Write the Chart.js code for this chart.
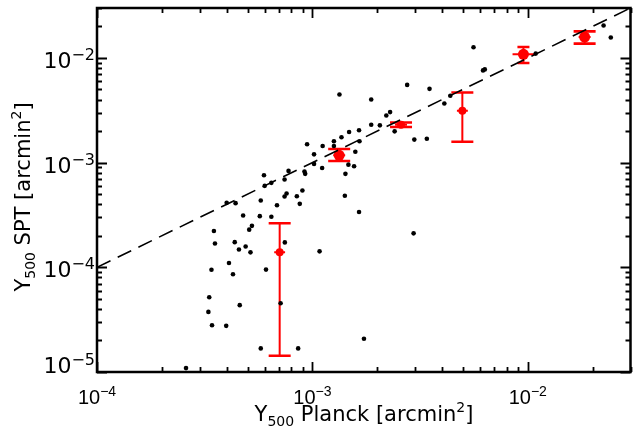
<!DOCTYPE html>
<html>
<head>
<meta charset="utf-8">
<script src="https://cdn.jsdelivr.net/npm/chart.js@4.4.1/dist/chart.umd.min.js"></script>
<style>
  html, body { margin: 0; padding: 0; background: #fff; }
</style>
</head>
<body>
<canvas id="chart" width="636" height="439"></canvas>
<script>
// Y500 Planck (x) vs Y500 SPT (y), arcmin^2, one black dot per cluster
const planckY500 = [
  2.59e-4, 3.29e-4, 3.32e-4, 3.40e-4, 3.42e-4, 3.49e-4, 3.53e-4, 3.98e-4, 4.00e-4, 4.10e-4,
  4.28e-4, 4.36e-4, 4.40e-4, 4.56e-4, 4.60e-4, 4.77e-4, 4.90e-4, 5.09e-4, 5.16e-4, 5.24e-4,
  5.70e-4, 5.76e-4, 5.76e-4, 5.96e-4, 6.01e-4, 6.09e-4, 6.45e-4, 6.45e-4, 6.85e-4, 7.12e-4,
  7.43e-4, 7.43e-4, 7.45e-4, 7.59e-4, 7.75e-4, 8.47e-4, 8.59e-4, 8.74e-4, 8.99e-4, 9.19e-4,
  9.26e-4, 9.45e-4, 1.018e-3, 1.018e-3, 1.08e-3, 1.11e-3, 1.116e-3, 1.259e-3, 1.259e-3, 1.336e-3,
  1.365e-3, 1.415e-3, 1.424e-3, 1.47e-3, 1.481e-3, 1.562e-3, 1.583e-3, 1.647e-3, 1.655e-3, 1.647e-3,
  1.736e-3, 1.876e-3, 1.876e-3, 2.058e-3, 2.205e-3, 2.296e-3, 2.41e-3, 2.755e-3, 2.951e-3, 2.974e-3,
  3.40e-3, 3.499e-3, 4.10e-3, 4.37e-3, 5.60e-3, 6.20e-3, 6.32e-3, 1.089e-2, 2.25e-2, 2.43e-2,
];
const sptY500 = [
  1.09e-5, 3.75e-5, 5.18e-5, 9.47e-5, 2.80e-5, 2.22e-4, 1.69e-4, 2.76e-5, 4.13e-4, 1.10e-4,
  8.58e-5, 1.74e-4, 4.10e-4, 1.48e-4, 4.35e-5, 3.13e-4, 1.58e-4, 2.29e-4, 1.39e-4, 2.49e-4,
  3.08e-4, 4.35e-4, 1.68e-5, 7.57e-4, 6.00e-4, 9.51e-5, 6.41e-4, 3.04e-4, 3.92e-4, 4.54e-5,
  6.89e-4, 4.75e-4, 1.73e-4, 5.07e-4, 8.34e-4, 4.78e-4, 1.68e-5, 4.04e-4, 5.41e-4, 8.21e-4,
  7.81e-4, 1.50e-3, 1.20e-3, 9.72e-4, 1.42e-4, 8.90e-4, 1.44e-3, 1.60e-3, 1.44e-3, 4.47e-3,
  1.75e-3, 4.82e-4, 7.81e-4, 9.57e-4, 1.96e-3, 9.22e-4, 1.27e-3, 2.04e-3, 1.60e-3, 3.38e-4,
  2.08e-5, 4.01e-3, 2.30e-3, 2.27e-3, 2.82e-3, 3.04e-3, 1.99e-3, 5.53e-3, 2.11e-4, 1.66e-3,
  1.69e-3, 5.07e-3, 3.67e-3, 4.35e-3, 1.264e-2, 7.60e-3, 7.77e-3, 1.10e-2, 2.04e-2, 1.57e-2,
];

// red stacked bins with their error bars
const stackX    = [7.05e-4, 1.332e-3, 2.58e-3, 4.97e-3, 9.55e-3, 1.837e-2];
const stackXLo  = [6.65e-4, 1.25e-3, 2.42e-3, 4.69e-3, 8.50e-3, 1.723e-2];
const stackXHi  = [7.47e-4, 1.42e-3, 2.75e-3, 5.27e-3, 1.073e-2, 1.958e-2];
const stackY    = [1.39e-4, 1.174e-3, 2.30e-3, 3.13e-3, 1.084e-2, 1.585e-2];
const stackYLo  = [1.43e-5, 1.038e-3, 2.19e-3, 1.585e-3, 8.96e-3, 1.369e-2];
const stackYHi  = [2.64e-4, 1.351e-3, 2.42e-3, 4.67e-3, 1.273e-2, 1.796e-2];

// one-to-one line and axis ranges
const oneToOne = [1e-4, 3e-2];
const xRange = [1e-4, 3e-2];
const yRange = [1e-5, 3e-2];

// labelled decades
const xTickValues = [1e-4, 1e-3, 1e-2];
const xTickExp    = ["\u22124", "\u22123", "\u22122"];
const yTickValues = [1e-5, 1e-4, 1e-3, 1e-2];
const yTickExp    = ["\u22125", "\u22124", "\u22123", "\u22122"];
const minorSteps  = [1, 2, 3, 4, 5, 6, 7, 8, 9];

const TICK_FONT = "'Liberation Sans', Arial, sans-serif";
const TITLE_FONT = "'DejaVu Sans', sans-serif";
const RED = "#ff0000";

function decadeTicks(lo, hi) {
  const out = [];
  for (let e = Math.floor(Math.log10(lo)); e <= Math.ceil(Math.log10(hi)); e++) {
    minorSteps.forEach((m) => {
      const v = m * Math.pow(10, e);
      if (v >= lo * 0.999 && v <= hi * 1.001) out.push({ value: v, major: m === 1 });
    });
  }
  return out;
}

// draws a run of text pieces (base text, sub/superscripts) on one baseline
function richText(ctx, parts, x, y, align) {
  let total = 0;
  parts.forEach((p) => { ctx.font = p.font; p.w = ctx.measureText(p.t).width; total += p.w; });
  let cx = align === "center" ? x - total / 2 : align === "right" ? x - total : x;
  parts.forEach((p) => { ctx.font = p.font; ctx.fillText(p.t, cx, y + (p.dy || 0)); cx += p.w; });
}

function titleParts(name) {
  return [
    { t: "Y", font: "21px " + TITLE_FONT },
    { t: "500", font: "14px " + TITLE_FONT, dy: 5 },
    { t: " " + name + " [arcmin", font: "21px " + TITLE_FONT },
    { t: "2", font: "14px " + TITLE_FONT, dy: -9 },
    { t: "]", font: "21px " + TITLE_FONT },
  ];
}

const errorBars = {
  id: "errorBars",
  beforeDatasetDraw(chart, args, opts) {
    if (args.index !== 2) return;
    const { ctx, scales: { x, y } } = chart;
    ctx.save();
    ctx.strokeStyle = RED;
    stackX.forEach((xv, i) => {
      const px = x.getPixelForValue(xv);
      const py = y.getPixelForValue(stackY[i]);
      const top = y.getPixelForValue(stackYHi[i]);
      const bot = y.getPixelForValue(stackYLo[i]);
      const cap = opts.capPx[i];
      ctx.lineWidth = 2;
      ctx.beginPath();
      ctx.moveTo(px, top); ctx.lineTo(px, bot);
      ctx.moveTo(x.getPixelForValue(stackXLo[i]), py); ctx.lineTo(x.getPixelForValue(stackXHi[i]), py);
      ctx.stroke();
      ctx.lineWidth = 2.6;
      ctx.beginPath();
      ctx.moveTo(px - cap, top); ctx.lineTo(px + cap, top);
      ctx.moveTo(px - cap, bot); ctx.lineTo(px + cap, bot);
      ctx.stroke();
    });
    ctx.restore();
  },
};

// IDL-style frame: inward ticks on all four sides, 10^n labels, axis titles
const idlFrame = {
  id: "idlFrame",
  afterDraw(chart) {
    const { ctx, chartArea: a, scales: { x, y } } = chart;
    ctx.save();
    ctx.strokeStyle = "#000";
    ctx.lineWidth = 1.8;
    ctx.beginPath();
    x.ticks.forEach((t) => {
      const px = Math.round(x.getPixelForValue(t.value)) + 0.5;
      const len = t.major ? 10 : 5;
      ctx.moveTo(px, a.bottom); ctx.lineTo(px, a.bottom - len);
      ctx.moveTo(px, a.top); ctx.lineTo(px, a.top + len);
    });
    y.ticks.forEach((t) => {
      const py = Math.round(y.getPixelForValue(t.value)) + 0.5;
      const len = t.major ? 10 : 5;
      ctx.moveTo(a.left, py); ctx.lineTo(a.left + len, py);
      ctx.moveTo(a.right, py); ctx.lineTo(a.right - len, py);
    });
    ctx.stroke();
    ctx.lineWidth = 2.5;
    ctx.strokeRect(a.left, a.top, a.right - a.left, a.bottom - a.top);

    ctx.fillStyle = "#000";
    ctx.textAlign = "left";
    ctx.textBaseline = "alphabetic";
    xTickValues.forEach((v, i) => {
      richText(ctx, [
        { t: "10", font: "20px " + TICK_FONT },
        { t: xTickExp[i], font: "14px " + TICK_FONT, dy: -8 },
      ], x.getPixelForValue(v), 404, "center");
    });
    yTickValues.forEach((v, i) => {
      const py = y.getPixelForValue(v);
      const lift = v === yRange[0] ? 9 : 0;
      richText(ctx, [
        { t: "10", font: "22px " + TITLE_FONT },
        { t: yTickExp[i], font: "16px " + TITLE_FONT, dy: -8 },
      ], 95, py + 10 - lift, "right");
    });

    richText(ctx, titleParts("Planck"), 364, 421, "center");
    ctx.translate(30, 197);
    ctx.rotate(-Math.PI / 2);
    richText(ctx, titleParts("SPT"), 0, 0, "center");
    ctx.restore();
  },
};

const logAxis = (range, fit) => ({
  type: "logarithmic",
  min: range[0],
  max: range[1],
  afterBuildTicks: (s) => { s.ticks = decadeTicks(range[0], range[1]); },
  afterFit: fit,
  grid: { display: false },
  border: { display: false },
  ticks: { display: false, autoSkip: false },
});

new Chart(document.getElementById("chart"), {
  type: "scatter",
  data: {
    datasets: [
      {
        data: planckY500.map((v, i) => ({ x: v, y: sptY500[i] })),
        backgroundColor: "#000",
        borderWidth: 0,
        pointRadius: 2.3,
      },
      {
        type: "line",
        data: oneToOne.map((v) => ({ x: v, y: v })),
        borderColor: "#000",
        borderWidth: 1.6,
        borderDash: [15, 8],
        pointRadius: 0,
        fill: false,
      },
      {
        data: stackX.map((v, i) => ({ x: v, y: stackY[i] })),
        backgroundColor: RED,
        borderWidth: 0,
        pointRadius: [4, 5.5, 4, 4, 5.5, 5.5],
      },
    ],
  },
  options: {
    responsive: false,
    animation: false,
    devicePixelRatio: 1,
    layout: { padding: { top: 8, right: 1, left: 0, bottom: 0 } },
    plugins: {
      legend: { display: false },
      tooltip: { enabled: false },
      errorBars: { capPx: [11, 11, 11, 11, 6, 11] },
    },
    scales: {
      x: logAxis(xRange, (s) => { s.height = 67; }),
      y: logAxis(yRange, (s) => { s.width = 97; }),
    },
  },
  plugins: [errorBars, idlFrame],
});
</script>
</body>
</html>
